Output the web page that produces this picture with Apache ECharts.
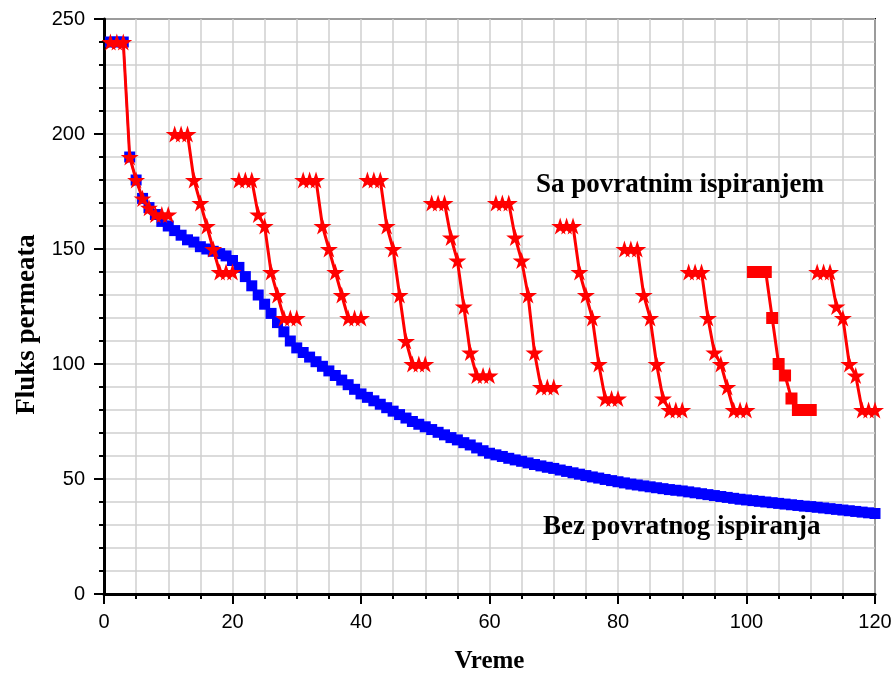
<!DOCTYPE html>
<html>
<head>
<meta charset="utf-8">
<script src="https://cdn.jsdelivr.net/npm/echarts@6/dist/echarts.min.js"></script>
<style>
	html, body {margin:0; padding:0; background:#fff;}
	#chart {width:894px; height:679px;}
</style>
</head>
<body>
<div id="chart"></div>
<script>
// sampling step on the time axis (one point per unit)
var timeStep = 1;
var cycleLen = 10;

// flux without backwashing (blue squares), t = 1..120
var fluxBez = [
	240,240,240,190,180,172,168,165,162,160,
	158,156,154,153,151,150,149,148,147,145,
	142,138,134,130,126,122,118,114,110,107,
	105,103,101,99,97,95,93,91,89,87,
	85.5,84,82.5,81,79.5,78,76.5,75,73.8,72.7,
	71.5,70.3,69.2,68,67,65.8,64.8,63.5,62.3,61.2,
	60.5,59.8,59,58.3,57.7,57,56.3,55.7,55.1,54.6,
	53.9,53.3,52.7,52.1,51.5,50.9,50.4,49.8,49.3,48.8,
	48.3,47.8,47.4,47,46.6,46.2,45.8,45.4,45.1,44.8,
	44.4,44,43.6,43.2,42.8,42.4,42,41.6,41.2,40.9,
	40.6,40.3,40,39.7,39.4,39.1,38.8,38.5,38.2,38,
	37.7,37.4,37.1,36.8,36.5,36.2,35.9,35.6,35.3,35
];

// flux with backwashing (red), t = 1..120, one cycle = 10 points
var fluxSa = [
	240,240,240,190,180,172,168,165,165,165,
	200,200,200,180,170,160,150,140,140,140,
	180,180,180,165,160,140,130,120,120,120,
	180,180,180,160,150,140,130,120,120,120,
	180,180,180,160,150,130,110,100,100,100,
	170,170,170,155,145,125,105,95,95,95,
	170,170,170,155,145,130,105,90,90,90,
	160,160,160,140,130,120,100,85,85,85,
	150,150,150,130,120,100,85,80,80,80,
	140,140,140,120,105,100,90,80,80,80,
	140,140,140,120,100,95,85,80,80,80,
	140,140,140,125,120,100,95,80,80,80
];

// the one cycle drawn with squares instead of stars
var squareCycle = 10;

var xTicks = [0, 120, 20];
var yTicks = [0, 250, 50];

var starPath = 'path://M50,0 L61,35 L98,35 L68,57 L79,91 L50,70 L21,91 L32,57 L2,35 L39,35 Z';

var chart = echarts.init(document.getElementById('chart'));

var series = [];
series.push({
	name: 'Bez povratnog ispiranja',
	type: 'line',
	data: fluxBez.map(function(v, i){ return [(i + 1) * timeStep, v]; }),
	symbol: 'rect',
	symbolSize: 11,
	showAllSymbol: true,
	lineStyle: {color: '#0000ff', width: 2},
	itemStyle: {color: '#0000ff'},
	z: 2
});

var nCycles = fluxSa.length / cycleLen;
for (var c = 0; c < nCycles; c++){
	var pts = [];
	for (var k = 0; k < cycleLen; k++){
		var idx = c * cycleLen + k;
		pts.push([(idx + 1) * timeStep, fluxSa[idx]]);
	}
	var sq = (c == squareCycle);
	series.push({
		name: 'Sa povratnim ispiranjem',
		type: 'line',
		data: pts,
		symbol: sq ? 'rect' : starPath,
		symbolSize: sq ? 12 : 18,
		symbolKeepAspect: true,
		showAllSymbol: true,
		lineStyle: {color: '#ff0000', width: 3},
		itemStyle: {color: '#ff0000'},
		z: 3
	});
}

var option = {
	animation: false,
	backgroundColor: '#fff',
	grid: {
		left: 104, right: 19, top: 19, bottom: 85,
		outerBoundsMode: 'none',
		containLabel: false,
		show: true, borderColor: '#000', borderWidth: 2, backgroundColor: 'transparent'
	},
	xAxis: {
		type: 'value',
		min: xTicks[0], max: xTicks[1], interval: xTicks[2],
		name: 'Vreme',
		nameLocation: 'middle',
		nameGap: 55,
		nameTextStyle: {fontFamily: 'Liberation Serif', fontWeight: 'bold', fontSize: 25, color: '#000'},
		axisLine: {lineStyle: {color: '#000', width: 3}},
		axisTick: {show: true, inside: false, length: 10, lineStyle: {color: '#000', width: 2}},
		minorTick: {show: true, splitNumber: 4, length: 5, lineStyle: {color: '#000', width: 2}},
		splitLine: {show: true, lineStyle: {color: '#cfcfcf', width: 1.5}},
		minorSplitLine: {show: true, lineStyle: {color: '#cfcfcf', width: 1.5}},
		axisLabel: {fontFamily: 'Liberation Sans', fontSize: 20, color: '#000', margin: 18}
	},
	yAxis: {
		type: 'value',
		min: yTicks[0], max: yTicks[1], interval: yTicks[2],
		name: 'Fluks permeata',
		nameLocation: 'middle',
		nameGap: 62,
		nameRotate: 90,
		nameTextStyle: {fontFamily: 'Liberation Serif', fontWeight: 'bold', fontSize: 27, color: '#000', padding: [0, 36, 0, 0]},
		axisLine: {lineStyle: {color: '#000', width: 3}},
		axisTick: {show: true, inside: false, length: 10, lineStyle: {color: '#000', width: 2}},
		minorTick: {show: true, splitNumber: 5, length: 5, lineStyle: {color: '#000', width: 2}},
		splitLine: {show: true, lineStyle: {color: '#cfcfcf', width: 1.5}},
		minorSplitLine: {show: true, lineStyle: {color: '#cfcfcf', width: 1.5}},
		axisLabel: {fontFamily: 'Liberation Sans', fontSize: 20, color: '#000', margin: 19}
	},
	graphic: [
		{
			type: 'text', left: 536, top: 172, z: 10,
			style: {text: 'Sa povratnim ispiranjem', font: 'bold 27px "Liberation Serif"', fill: '#000'}
		},
		{
			type: 'text', left: 543, top: 514, z: 10,
			style: {text: 'Bez povratnog ispiranja', font: 'bold 27px "Liberation Serif"', fill: '#000'}
		}
	],
	series: series
};
chart.setOption(option);
</script>
</body>
</html>
